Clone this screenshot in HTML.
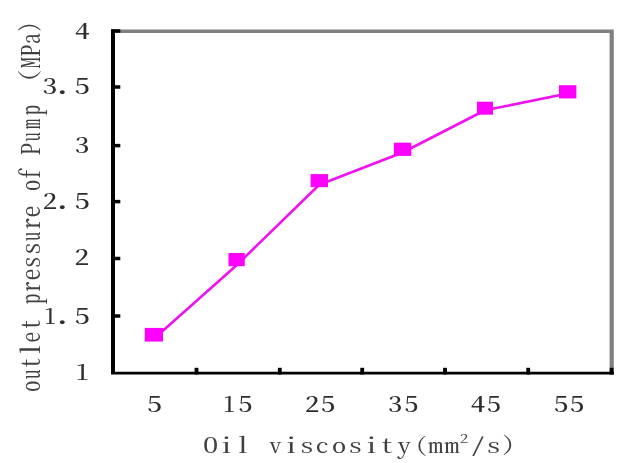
<!DOCTYPE html>
<html><head><meta charset="utf-8"><style>
html,body{margin:0;padding:0;background:#fff;}
svg{display:block;}
svg text{font-family:'Noto Serif CJK SC', 'Liberation Serif', serif;font-size:21.0px;fill:#2e2e2e;font-feature-settings:'hwid';white-space:pre;font-weight:500;}
svg text.t{fill:#404040;font-weight:400;}
</style></head><body>
<svg width="640" height="463" viewBox="0 0 640 463">
<rect width="640" height="463" fill="#fff"/>
<path d="M111 29.5H613.8V374.6H609.6V33.1H111Z" fill="#808080"/>
<path d="M111 29.5H115V371.8H613.8V374.6H111Z" fill="#000"/>
<rect x="111.0" y="29.25" width="9.3" height="3.5" fill="#000"/>
<rect x="111.0" y="85.25" width="9.3" height="3.5" fill="#000"/>
<rect x="111.0" y="143.85" width="9.3" height="3.5" fill="#000"/>
<rect x="111.0" y="199.85" width="9.3" height="3.5" fill="#000"/>
<rect x="111.0" y="256.75" width="9.3" height="3.5" fill="#000"/>
<rect x="111.0" y="314.25" width="9.3" height="3.5" fill="#000"/>
<rect x="194.60" y="367.8" width="3.8" height="6.7" fill="#000"/>
<rect x="277.90" y="367.8" width="3.8" height="6.7" fill="#000"/>
<rect x="360.30" y="367.8" width="3.8" height="6.7" fill="#000"/>
<rect x="443.10" y="367.8" width="3.8" height="6.7" fill="#000"/>
<rect x="526.30" y="367.8" width="3.8" height="6.7" fill="#000"/>
<rect x="609.70" y="367.8" width="3.8" height="6.7" fill="#000"/>
<polyline points="153.9,338.8 236.6,265.25 319.3,184.7 402.6,152.5 485.0,110.25 567.7,93.6" fill="none" stroke="#f010f0" stroke-width="2.6" stroke-linejoin="round"/>
<rect x="144.80" y="327.90" width="18.20" height="13.70" fill="#ff00ff"/>
<rect x="228.50" y="253.00" width="16.25" height="13.20" fill="#ff00ff"/>
<rect x="310.60" y="174.10" width="17.40" height="13.00" fill="#ff00ff"/>
<rect x="393.90" y="142.70" width="17.40" height="13.20" fill="#ff00ff"/>
<rect x="477.00" y="101.70" width="16.00" height="13.00" fill="#ff00ff"/>
<rect x="559.00" y="85.20" width="17.40" height="13.20" fill="#ff00ff"/>
<text transform="translate(0 38.60)"><tspan x="75.01" y="0.00" textLength="14.89" lengthAdjust="spacingAndGlyphs">4</tspan></text>
<text transform="translate(0 94.40)"><tspan x="42.87" y="0.00" textLength="14.17" lengthAdjust="spacingAndGlyphs">3</tspan><tspan x="52.75" y="0.00" textLength="19.09" lengthAdjust="spacingAndGlyphs" style="font-size:30px">.</tspan><tspan x="75.12" y="0.00" textLength="14.71" lengthAdjust="spacingAndGlyphs">5</tspan></text>
<text transform="translate(0 153.40)"><tspan x="75.12" y="0.00" textLength="14.11" lengthAdjust="spacingAndGlyphs">3</tspan></text>
<text transform="translate(0 209.20)"><tspan x="42.71" y="0.00" textLength="14.34" lengthAdjust="spacingAndGlyphs">2</tspan><tspan x="52.75" y="0.00" textLength="19.09" lengthAdjust="spacingAndGlyphs" style="font-size:30px">.</tspan><tspan x="75.12" y="0.00" textLength="14.71" lengthAdjust="spacingAndGlyphs">5</tspan></text>
<text transform="translate(0 265.20)"><tspan x="74.58" y="0.00" textLength="14.70" lengthAdjust="spacingAndGlyphs">2</tspan></text>
<text transform="translate(0 323.60)"><tspan x="44.42" y="0.00" textLength="11.55" lengthAdjust="spacingAndGlyphs">1</tspan><tspan x="52.75" y="0.00" textLength="19.09" lengthAdjust="spacingAndGlyphs" style="font-size:30px">.</tspan><tspan x="75.12" y="0.00" textLength="14.71" lengthAdjust="spacingAndGlyphs">5</tspan></text>
<text transform="translate(0 379.50)"><tspan x="76.12" y="0.00" textLength="12.93" lengthAdjust="spacingAndGlyphs">1</tspan></text>
<text transform="translate(0 411.60)"><tspan x="147.54" y="0.00" textLength="14.35" lengthAdjust="spacingAndGlyphs">5</tspan></text>
<text transform="translate(0 411.60)"><tspan x="223.48" y="0.00" textLength="11.67" lengthAdjust="spacingAndGlyphs">1</tspan><tspan x="238.88" y="0.00" textLength="13.59" lengthAdjust="spacingAndGlyphs">5</tspan></text>
<text transform="translate(0 411.60)"><tspan x="304.97" y="0.00" textLength="14.28" lengthAdjust="spacingAndGlyphs">2</tspan><tspan x="321.37" y="0.00" textLength="13.88" lengthAdjust="spacingAndGlyphs">5</tspan></text>
<text transform="translate(0 411.60)"><tspan x="388.15" y="0.00" textLength="13.75" lengthAdjust="spacingAndGlyphs">3</tspan><tspan x="404.69" y="0.00" textLength="13.53" lengthAdjust="spacingAndGlyphs">5</tspan></text>
<text transform="translate(0 411.60)"><tspan x="470.73" y="0.00" textLength="14.55" lengthAdjust="spacingAndGlyphs">4</tspan><tspan x="487.38" y="0.00" textLength="13.59" lengthAdjust="spacingAndGlyphs">5</tspan></text>
<text transform="translate(0 411.60)"><tspan x="554.16" y="0.00" textLength="14.00" lengthAdjust="spacingAndGlyphs">5</tspan><tspan x="570.17" y="0.00" textLength="13.88" lengthAdjust="spacingAndGlyphs">5</tspan></text>
<text class="t" transform="translate(0 453.40)"><tspan x="202.75" y="0.00" textLength="15.75" lengthAdjust="spacingAndGlyphs">O</tspan><tspan x="218.28" y="0.00" textLength="15.75" lengthAdjust="spacingAndGlyphs">i</tspan><tspan x="234.95" y="0.00" textLength="15.75" lengthAdjust="spacingAndGlyphs">l</tspan><tspan x="249.50" y="0"> </tspan><tspan x="269.15" y="0.00" textLength="12.34" lengthAdjust="spacingAndGlyphs">v</tspan><tspan x="282.98" y="0.00" textLength="15.75" lengthAdjust="spacingAndGlyphs">i</tspan><tspan x="299.40" y="0.00" textLength="14.71" lengthAdjust="spacingAndGlyphs">s</tspan><tspan x="315.44" y="0.00" textLength="13.25" lengthAdjust="spacingAndGlyphs">c</tspan><tspan x="331.78" y="0.00" textLength="14.69" lengthAdjust="spacingAndGlyphs">o</tspan><tspan x="348.10" y="0.00" textLength="14.71" lengthAdjust="spacingAndGlyphs">s</tspan><tspan x="363.31" y="0.00" textLength="15.75" lengthAdjust="spacingAndGlyphs">i</tspan><tspan x="379.51" y="0.00" textLength="14.93" lengthAdjust="spacingAndGlyphs">t</tspan><tspan x="397.47" y="0.00" textLength="13.60" lengthAdjust="spacingAndGlyphs">y</tspan><tspan x="415.47" y="-1.80" textLength="11.25" lengthAdjust="spacingAndGlyphs" style="font-size:19.5px">(</tspan><tspan x="428.15" y="0.00" textLength="14.85" lengthAdjust="spacingAndGlyphs">m</tspan><tspan x="444.55" y="0.00" textLength="14.85" lengthAdjust="spacingAndGlyphs">m</tspan><tspan x="459.83" y="-10.90" textLength="8.55" lengthAdjust="spacingAndGlyphs" style="font-size:11.5px">2</tspan><tspan x="470.45" y="-1.70" textLength="15.00" lengthAdjust="spacingAndGlyphs" style="font-size:20px">/</tspan><tspan x="486.12" y="0.00" textLength="15.15" lengthAdjust="spacingAndGlyphs">s</tspan><tspan x="502.51" y="-2.20" textLength="11.90" lengthAdjust="spacingAndGlyphs" style="font-size:19.5px">)</tspan></text>
<text class="t" transform="translate(40.00 0) scale(1.215 1) rotate(-90)"><tspan x="-391.94" y="0.00" textLength="11.60" lengthAdjust="spacingAndGlyphs">o</tspan><tspan x="-378.99" y="0.00" textLength="9.18" lengthAdjust="spacingAndGlyphs">u</tspan><tspan x="-369.02" y="0.00" textLength="12.09" lengthAdjust="spacingAndGlyphs">t</tspan><tspan x="-356.76" y="0.00" textLength="14.47" lengthAdjust="spacingAndGlyphs">l</tspan><tspan x="-342.71" y="0.00" textLength="11.00" lengthAdjust="spacingAndGlyphs">e</tspan><tspan x="-330.23" y="0.00" textLength="11.64" lengthAdjust="spacingAndGlyphs">t</tspan><tspan x="-319.10" y="0"> </tspan><tspan x="-304.01" y="0.00" textLength="10.45" lengthAdjust="spacingAndGlyphs">p</tspan><tspan x="-293.08" y="0.00" textLength="11.67" lengthAdjust="spacingAndGlyphs">r</tspan><tspan x="-280.39" y="0.00" textLength="11.75" lengthAdjust="spacingAndGlyphs">e</tspan><tspan x="-268.52" y="0.00" textLength="12.50" lengthAdjust="spacingAndGlyphs">s</tspan><tspan x="-255.27" y="0.00" textLength="13.38" lengthAdjust="spacingAndGlyphs">s</tspan><tspan x="-240.79" y="0.00" textLength="8.57" lengthAdjust="spacingAndGlyphs">u</tspan><tspan x="-230.80" y="0.00" textLength="12.95" lengthAdjust="spacingAndGlyphs">r</tspan><tspan x="-217.59" y="0.00" textLength="11.75" lengthAdjust="spacingAndGlyphs">e</tspan><tspan x="-205.90" y="0"> </tspan><tspan x="-191.01" y="0.00" textLength="11.23" lengthAdjust="spacingAndGlyphs">o</tspan><tspan x="-179.92" y="0.00" textLength="11.60" lengthAdjust="spacingAndGlyphs">f</tspan><tspan x="-167.20" y="0"> </tspan><tspan x="-155.43" y="0.00" textLength="12.89" lengthAdjust="spacingAndGlyphs">P</tspan><tspan x="-141.29" y="0.00" textLength="8.67" lengthAdjust="spacingAndGlyphs">u</tspan><tspan x="-129.10" y="0.00" textLength="10.00" lengthAdjust="spacingAndGlyphs">m</tspan><tspan x="-114.90" y="0.00" textLength="10.00" lengthAdjust="spacingAndGlyphs">p</tspan><tspan x="-104.70" y="0"> </tspan><tspan x="-81.75" y="-3.50" textLength="11.72" lengthAdjust="spacingAndGlyphs" style="font-size:18px">(</tspan><tspan x="-68.11" y="0.00" textLength="10.82" lengthAdjust="spacingAndGlyphs">M</tspan><tspan x="-57.01" y="0.00" textLength="12.65" lengthAdjust="spacingAndGlyphs">P</tspan><tspan x="-44.06" y="0.00" textLength="10.56" lengthAdjust="spacingAndGlyphs">a</tspan><tspan x="-31.37" y="-3.30" textLength="8.73" lengthAdjust="spacingAndGlyphs" style="font-size:18px">)</tspan></text>
</svg>
</body></html>
